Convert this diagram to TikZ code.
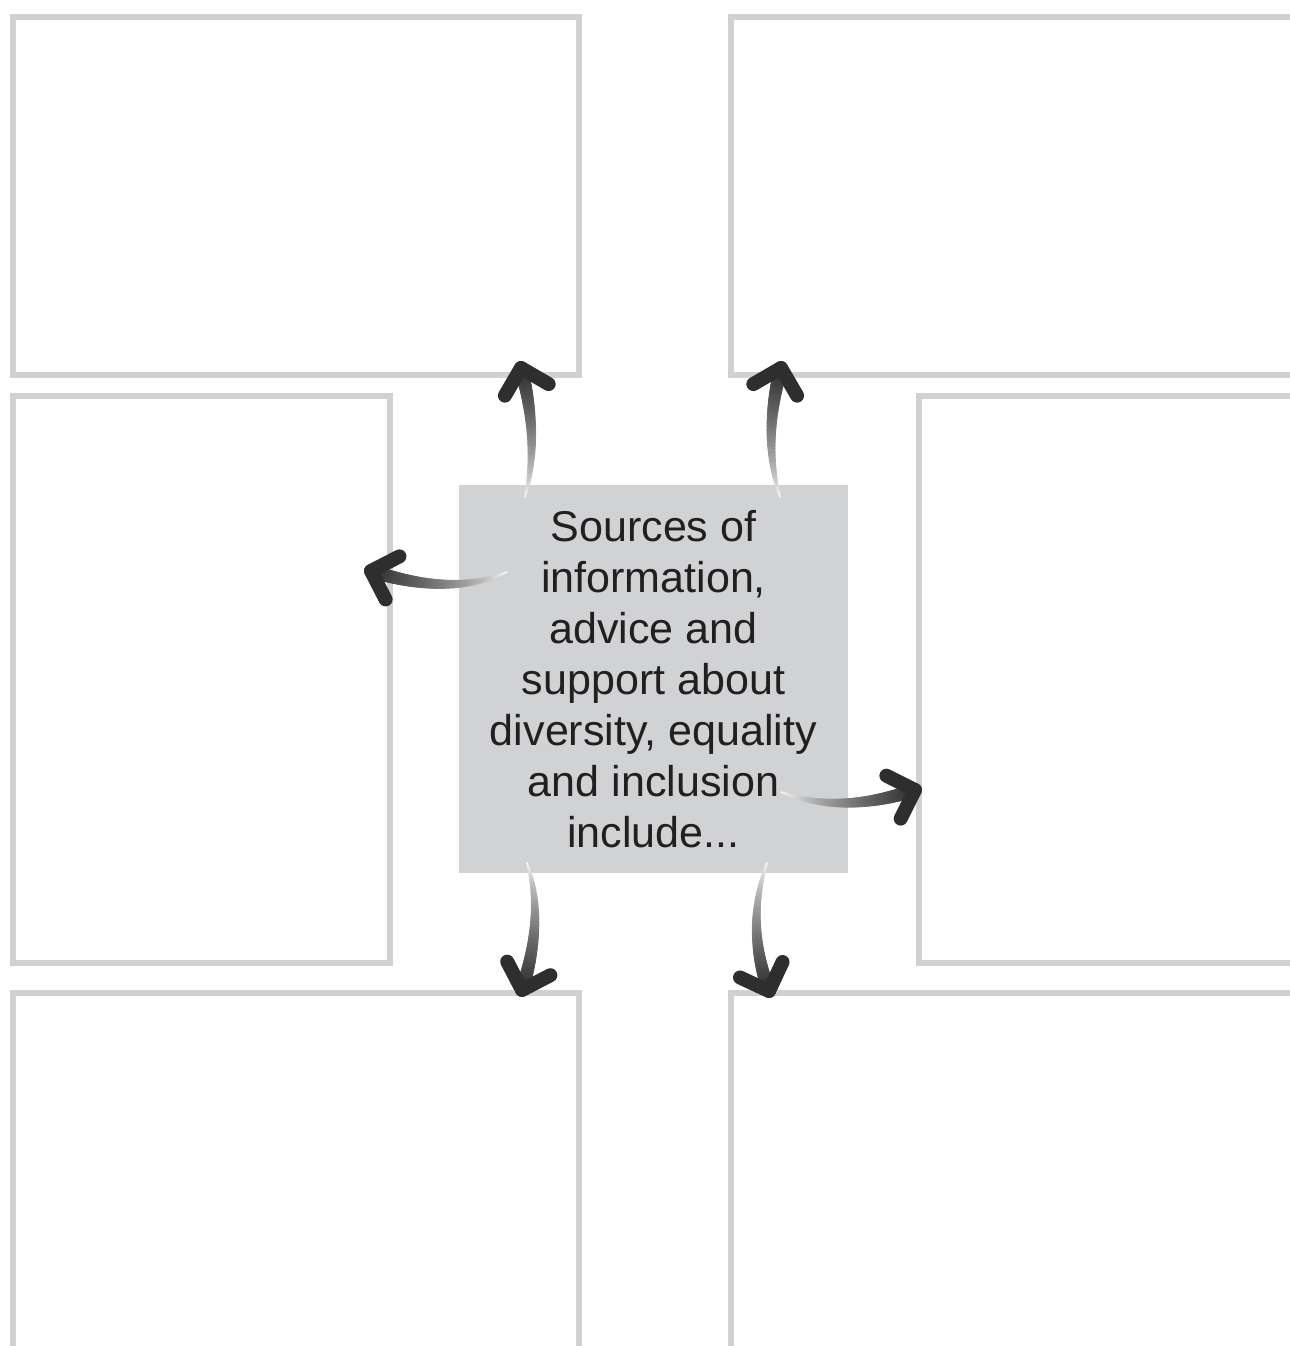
\documentclass[tikz,border=0pt]{standalone}
\usepackage{fontspec}
\setmainfont{Liberation Sans}
\usepackage{tikz}
\usetikzlibrary{calc}
\definecolor{framegrey}{HTML}{D1D1D1}
\definecolor{boxgrey}{HTML}{D1D2D4}
\definecolor{arrowdark}{HTML}{353535}
\definecolor{headdark}{HTML}{2E2E2E}
\definecolor{textdark}{HTML}{231F20}
\tikzset{
  frame/.style={draw=framegrey, line width=0.13cm},
  headline/.style={draw=headdark, line width=0.28cm, line cap=round, line join=round},
}
% shaded, tapering curved arrow: start, control, tip
\newcommand{\fadearrow}[3]{%
  \foreach \i in {1,...,40}{%
    \pgfmathsetmacro{\ta}{(\i-1)/40}%
    \pgfmathsetmacro{\tb}{\i/40}%
    \pgfmathtruncatemacro{\pc}{100*pow((\i-0.5)/40,0.75)}%
    \pgfmathsetmacro{\wd}{0.02+0.26*pow((\i-0.5)/40,0.7)}%
    \draw[line width=\wd cm, line cap=round, color=arrowdark!\pc!white]
      ($($(#1)!\ta!(#2)$)!\ta!($(#2)!\ta!(#3)$)$) --
      ($($(#1)!\tb!(#2)$)!\tb!($(#2)!\tb!(#3)$)$);
  }%
  \draw[headline] ($(#3)!0.64cm!45:(#2)$) -- (#3) -- ($(#3)!0.64cm!-45:(#2)$);
}

\begin{document}
\begin{tikzpicture}
      \useasboundingbox (0,0) rectangle (25.8,26.92);
      \clip (0,0) rectangle (25.8,26.92);

      % frames round the centre
      \draw[frame] (0.26,26.58) rectangle (11.58,19.42);
      \draw[frame] (14.62,26.58) rectangle (27,19.42);
      \draw[frame] (0.26,19.00) rectangle (7.80,7.66);
      \draw[frame] (18.38,19.00) rectangle (27,7.66);
      \draw[frame] (0.26,7.06) rectangle (11.58,-1);
      \draw[frame] (14.62,7.06) rectangle (27,-1);

      \node[fill=boxgrey, minimum width=7.78cm, minimum height=7.76cm, inner sep=0,
            align=center, font=\fontsize{24.5}{29}\selectfont, text=textdark] (src) at (13.07,13.34)
            {Sources of\\information,\\advice and\\support about\\diversity, equality\\and inclusion\\include...};

      % arrow ends
      \coordinate (tla) at (10.50,16.98); \coordinate (tlc) at (10.80,18.12); \coordinate (tlb) at (10.42,19.56);
      \coordinate (tra) at (15.60,16.98); \coordinate (trc) at (15.24,18.12); \coordinate (trb) at (15.62,19.56);
      \coordinate (la) at (10.14,15.48);  \coordinate (lc) at (9.04,14.98);   \coordinate (lb) at (7.42,15.50);
      \coordinate (ra) at (15.62,11.08);  \coordinate (rc) at (16.80,10.62);  \coordinate (rb) at (18.30,11.12);
      \coordinate (bla) at (10.54,9.66);  \coordinate (blc) at (10.90,8.58);  \coordinate (blb) at (10.44,7.12);
      \coordinate (bra) at (15.34,9.66);  \coordinate (brc) at (14.90,8.42);  \coordinate (brb) at (15.38,7.10);

      \fadearrow{tla}{tlc}{tlb}
      \fadearrow{tra}{trc}{trb}
      \fadearrow{la}{lc}{lb}
      \fadearrow{ra}{rc}{rb}
      \fadearrow{bla}{blc}{blb}
      \fadearrow{bra}{brc}{brb}
    \end{tikzpicture}
\end{document}
